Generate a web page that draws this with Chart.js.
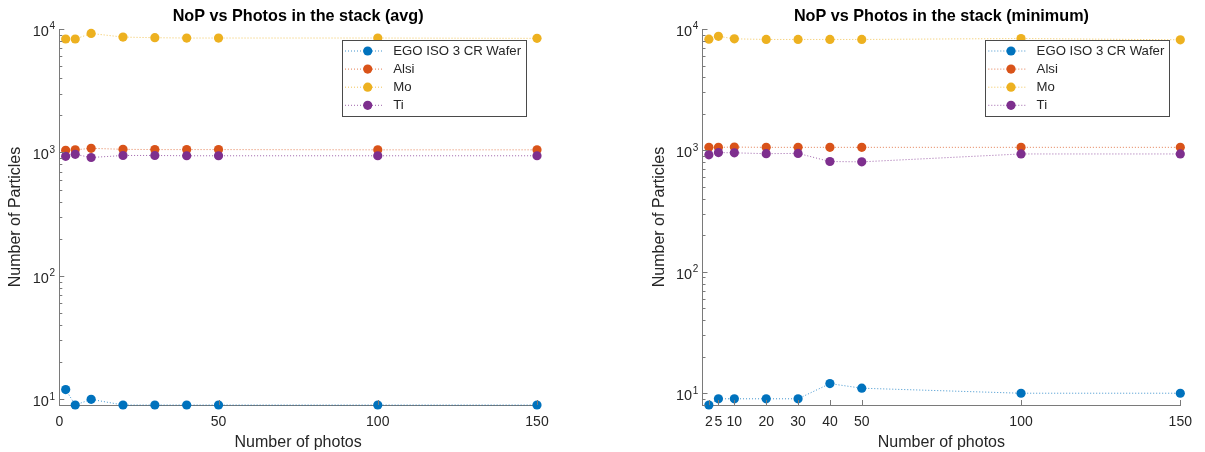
<!DOCTYPE html>
<html>
<head>
<meta charset="utf-8">
<script src="https://cdn.jsdelivr.net/npm/chart.js@4.4.0/dist/chart.umd.min.js"></script>
<style>
html, body { margin: 0; padding: 0; background: #fff; }
body { width: 1205px; height: 452px; position: relative; overflow: hidden; }
.plot { position: absolute; top: 0; height: 452px; }
#avgPlot { left: 0; width: 600px; }
#minPlot { left: 644px; width: 561px; }
</style>
</head>
<body>
<div class="plot" id="avgPlot"><canvas id="avgChart"></canvas></div>
<div class="plot" id="minPlot"><canvas id="minChart"></canvas></div>
<script>
// photos in the stack (x) and particle counts per material
const photos = [2, 5, 10, 20, 30, 40, 50, 100, 150];
const seriesNames = ['EGO ISO 3 CR Wafer', 'Alsi', 'Mo', 'Ti'];
const seriesColors = ['#0072BD', '#D95319', '#EDB120', '#7E2F8E'];

const egoAvg = [12, 9, 10, 9, 9, 9, 9, 9, 9];
const alsiAvg = [1040, 1050, 1080, 1060, 1055, 1055, 1055, 1050, 1050];
const moAvg = [8300, 8300, 9200, 8600, 8500, 8450, 8450, 8450, 8400];
const tiAvg = [930, 965, 910, 945, 945, 940, 940, 940, 940];

const egoMin = [8, 9, 9, 9, 9, 12, 11, 10, 10];
const alsiMin = [1060, 1060, 1065, 1060, 1060, 1060, 1060, 1060, 1060];
const moMin = [8250, 8700, 8300, 8200, 8200, 8200, 8200, 8350, 8150];
const tiMin = [920, 960, 955, 940, 945, 810, 805, 935, 935];

const xTicksAvg = [0, 50, 100, 150];
const xTicksMin = [2, 5, 10, 20, 30, 40, 50, 100, 150];
const yDecades = [1, 2, 3, 4];

const FONT = '"Liberation Sans", Arial, Helvetica, sans-serif';
const INK = '#262626';
const AXIS = '#7a7a7a';

function rgba(hex, a) {
  const n = parseInt(hex.slice(1), 16);
  return 'rgba(' + (n >> 16) + ',' + ((n >> 8) & 255) + ',' + (n & 255) + ',' + a + ')';
}

// title, inward ticks, 10^n labels and the boxed legend (matlab look)
const axesDecor = {
  id: 'axesDecor',
  afterDraw(chart, args, opts) {
    const ctx = chart.ctx, area = chart.chartArea;
    const xs = chart.scales.x, ys = chart.scales.y;
    ctx.save();

    ctx.strokeStyle = AXIS;
    ctx.lineWidth = 1;
    ctx.beginPath();
    opts.xTicks.forEach(function(v) {
      const px = Math.round(xs.getPixelForValue(v)) + 0.5;
      ctx.moveTo(px, area.bottom);
      ctx.lineTo(px, area.bottom - 5);
    });
    for (let d = Math.floor(Math.log10(ys.min)); d <= Math.log10(ys.max); d++) {
      for (let k = 1; k <= 9; k++) {
        const v = k * Math.pow(10, d);
        if (v < ys.min || v > ys.max) continue;
        const py = Math.round(ys.getPixelForValue(v)) + 0.5;
        ctx.moveTo(area.left, py);
        ctx.lineTo(area.left + (k === 1 ? 5 : 3), py);
      }
    }
    ctx.stroke();

    // decade labels with raised exponent
    ctx.fillStyle = INK;
    ctx.textBaseline = 'alphabetic';
    yDecades.forEach(function(p) {
      const py = ys.getPixelForValue(Math.pow(10, p));
      const right = area.left - 4.3;
      ctx.font = '10px ' + FONT;
      ctx.textAlign = 'right';
      const ew = ctx.measureText(String(p)).width;
      ctx.fillText(String(p), right, py + 0.3);
      ctx.font = '14.5px ' + FONT;
      ctx.fillText('10', right - ew - 0.5, py + 6.8);
    });

    // title centred over the axes
    ctx.font = 'bold 16.2px ' + FONT;
    ctx.textAlign = 'center';
    ctx.textBaseline = 'middle';
    ctx.fillStyle = '#000';
    ctx.fillText(opts.title, (area.left + area.right) / 2, 16.5);

    // legend, north-east corner
    const bw = 184.3, bh = 76;
    const bx = area.right - 11 - bw, by = area.top + 11;
    ctx.fillStyle = '#fff';
    ctx.fillRect(bx, by, bw, bh);
    ctx.strokeStyle = '#4a4a4a';
    ctx.lineWidth = 1;
    ctx.strokeRect(Math.round(bx) + 0.5, Math.round(by) + 0.5, Math.round(bw), Math.round(bh));
    ctx.font = '13.2px ' + FONT;
    ctx.textAlign = 'left';
    seriesNames.forEach(function(name, i) {
      const ry = by + 11 + i * 18.1;
      ctx.strokeStyle = rgba(seriesColors[i], 0.75);
      ctx.setLineDash([1, 2]);
      ctx.beginPath();
      ctx.moveTo(bx + 3.3, ry);
      ctx.lineTo(bx + 41.3, ry);
      ctx.stroke();
      ctx.setLineDash([]);
      ctx.fillStyle = seriesColors[i];
      ctx.beginPath();
      ctx.arc(bx + 26, ry, 4.6, 0, Math.PI * 2);
      ctx.fill();
      ctx.fillStyle = INK;
      ctx.fillText(name, bx + 51.6, ry + 0.5);
    });
    ctx.restore();
  }
};

function makeChart(canvasId, title, series, xTicks, yMin, yWidth, padRight) {
  const datasets = series.map(function(vals, i) {
    return {
      label: seriesNames[i],
      data: photos.map(function(x, j) { return { x: x, y: vals[j] }; }),
      showLine: true,
      borderColor: rgba(seriesColors[i], 0.75),
      borderWidth: 1,
      borderDash: [1, 2],
      backgroundColor: seriesColors[i],
      pointBackgroundColor: seriesColors[i],
      pointBorderWidth: 0,
      pointRadius: 4.6,
      pointHoverRadius: 4.6,
      clip: false,
      order: series.length - 1 - i
    };
  });
  return new Chart(document.getElementById(canvasId), {
    type: 'scatter',
    data: { datasets: datasets },
    options: {
      responsive: true,
      maintainAspectRatio: false,
      devicePixelRatio: 1,
      animation: false,
      layout: { padding: { left: 0, top: 29, right: padRight, bottom: 0 } },
      plugins: {
        legend: { display: false },
        tooltip: { enabled: false },
        axesDecor: { title: title, xTicks: xTicks }
      },
      scales: {
        x: {
          type: 'linear', min: 0, max: 150,
          afterBuildTicks: function(s) { s.ticks = xTicks.map(function(v) { return { value: v }; }); },
          afterFit: function(s) { s.height = 47; },
          grid: { display: false, drawTicks: false },
          border: { display: true, color: AXIS, width: 1 },
          ticks: { autoSkip: false, maxRotation: 0, padding: 8.4, color: INK, font: { family: FONT, size: 14 } },
          title: { display: true, text: 'Number of photos', color: INK, font: { family: FONT, size: 16 }, padding: 0 }
        },
        y: {
          type: 'logarithmic', min: yMin, max: 10000,
          afterFit: function(s) { s.width = yWidth; },
          grid: { display: false, drawTicks: false },
          border: { display: true, color: AXIS, width: 1 },
          ticks: { display: false },
          title: { display: true, text: 'Number of Particles', color: INK, font: { family: FONT, size: 16 }, padding: { top: 6.4, bottom: 0 } }
        }
      }
    },
    plugins: [axesDecor]
  });
}

makeChart('avgChart', 'NoP vs Photos in the stack (avg)', [egoAvg, alsiAvg, moAvg, tiAvg], xTicksAvg, 9, 59.3, 63);
makeChart('minChart', 'NoP vs Photos in the stack (minimum)', [egoMin, alsiMin, moMin, tiMin], xTicksMin, 8, 58.5, 24.7);
</script>
</body>
</html>
